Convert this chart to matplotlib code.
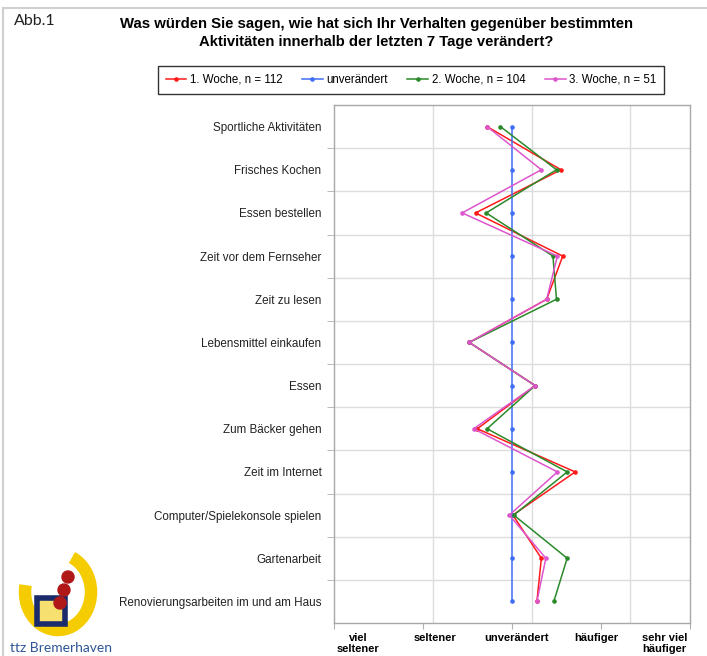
import matplotlib
matplotlib.use("Agg")
import matplotlib.pyplot as plt
import matplotlib.patches as mpatches
from matplotlib.transforms import ScaledTranslation
import numpy as np

# ---------------- data ----------------
categories = [
    "Sportliche Aktivitäten",
    "Frisches Kochen",
    "Essen bestellen",
    "Zeit vor dem Fernseher",
    "Zeit zu lesen",
    "Lebensmittel einkaufen",
    "Essen",
    "Zum Bäcker gehen",
    "Zeit im Internet",
    "Computer/Spielekonsole spielen",
    "Gartenarbeit",
    "Renovierungsarbeiten im und am Haus",
]
woche1 = [-0.28, 0.55, -0.41, 0.57, 0.39, -0.48, 0.26, -0.39, 0.71, 0.01, 0.33, 0.28]
unveraendert = [0, 0, 0, 0, 0, 0, 0, 0, 0, 0, 0, 0]
woche2 = [-0.13, 0.50, -0.29, 0.46, 0.50, -0.48, 0.26, -0.28, 0.62, 0.02, 0.62, 0.47]
woche3 = [-0.28, 0.33, -0.56, 0.51, 0.39, -0.48, 0.26, -0.43, 0.51, -0.03, 0.38, 0.28]

series_labels = ["1. Woche, n = 112", "unverändert", "2. Woche, n = 104", "3. Woche, n = 51"]
series_colors = ["#ff1a1a", "#3f6df5", "#2a8a2a", "#dd55cc"]

x_ticks = [-2, -1, 0, 1, 2]
x_ticklabels = ["viel\nseltener", "seltener", "unverändert", "häufiger", "sehr viel\nhäufiger"]
x_grid = [-0.883, 0.223, 1.330]

title = ("Was würden Sie sagen, wie hat sich Ihr Verhalten gegenüber bestimmten\n"
         "Aktivitäten innerhalb der letzten 7 Tage verändert?")

# ---------------- figure ----------------
W, H = 707, 656
fig = plt.figure(figsize=(W / 100, H / 100), dpi=100)
fig.patch.set_facecolor("white")

# background decoration axes in pixel coordinates
bg = fig.add_axes([0, 0, 1, 1], zorder=0)
bg.set_xlim(0, W)
bg.set_ylim(H, 0)
bg.axis("off")
bg.plot([3, W], [8, 8], color="#d0d0d0", lw=1.5)
bg.plot([3, 3], [8, H], color="#d0d0d0", lw=1.5)

# logo (approximation)
arc = mpatches.Arc((58, 592), 66, 76, angle=0, theta1=-68, theta2=192,
                   color="#f5cc00", lw=9)
bg.add_patch(arc)
bg.add_patch(mpatches.Rectangle((37, 598), 28, 26, facecolor="#f5e070",
                                edgecolor="#1a2a6a", lw=4))
for cx, cy in [(68, 577), (64, 590), (60, 603)]:
    bg.add_patch(mpatches.Circle((cx, cy), 6.0, color="#b01818"))
bg.text(10, 648, "ttz Bremerhaven", fontsize=10, color="#2f5597",
        family="Lato", va="center", ha="left")
bg.text(14, 21, "Abb.1", fontsize=11.5, color="#222222", family="Lato",
        va="center", ha="left")

fig.text(376 / W, 1 - 33 / H, title, ha="center", va="center",
         fontsize=10.7, fontweight="bold", family="Liberation Sans",
         linespacing=1.3)

# ---------------- main axes ----------------
ax = fig.add_axes([334 / W, 1 - 623 / H, (690 - 334) / W, (623 - 105) / H], zorder=1)
y = np.arange(len(categories))

series = [woche1, unveraendert, woche2, woche3]
handles = []
for vals, lab, col in zip(series, series_labels, series_colors):
    h, = ax.plot(vals, y, color=col, lw=1.1, marker="o", markersize=2.3,
                 label=lab)
    handles.append(h)

ax.set_xlim(-2, 2)
ax.set_ylim(len(categories) - 0.5, -0.5)

ax.set_yticks(y)
ax.set_yticklabels(categories, fontsize=8.4, family="Liberation Sans", color="#222222")
ax.tick_params(axis="y", which="major", length=0, pad=9)
ax.set_yticks(np.arange(0.5, len(categories) - 0.5, 1), minor=True)
ax.tick_params(axis="y", which="minor", length=5, color="#b0b0b0", direction="out")
ax.grid(axis="y", which="minor", color="#dcdcdc", lw=1)

ax.set_xticks(x_ticks)
ax.set_xticklabels(x_ticklabels, fontsize=8, fontweight="bold",
                   family="Liberation Sans", linespacing=1.08)
ax.tick_params(axis="x", length=4, color="#b0b0b0", direction="out", pad=3.5)
offsets = [3, 12, 5, -5, -3]
labels = ax.get_xticklabels()
labels[0].set_ha("left")
labels[-1].set_ha("right")
for lab, dx in zip(labels, offsets):
    lab.set_multialignment("center")
    lab.set_va("top")
    lab.set_transform(lab.get_transform() + ScaledTranslation(dx / 100, 0, fig.dpi_scale_trans))
for gx in x_grid:
    ax.axvline(gx, color="#dcdcdc", lw=1, zorder=0)

for sp in ax.spines.values():
    sp.set_color("#a8a8a8")
    sp.set_linewidth(1)

leg = fig.legend(handles=handles, loc="center", ncol=4,
                 bbox_to_anchor=(411 / W, 1 - 80 / H), frameon=True,
                 fancybox=False, edgecolor="black",
                 prop={"family": "Liberation Sans", "size": 8.3},
                 handlelength=1.8, handletextpad=0.3, columnspacing=1.7,
                 borderpad=0.7)
leg.get_frame().set_linewidth(1.0)

fig.savefig("out.png", dpi=100, facecolor="white")
